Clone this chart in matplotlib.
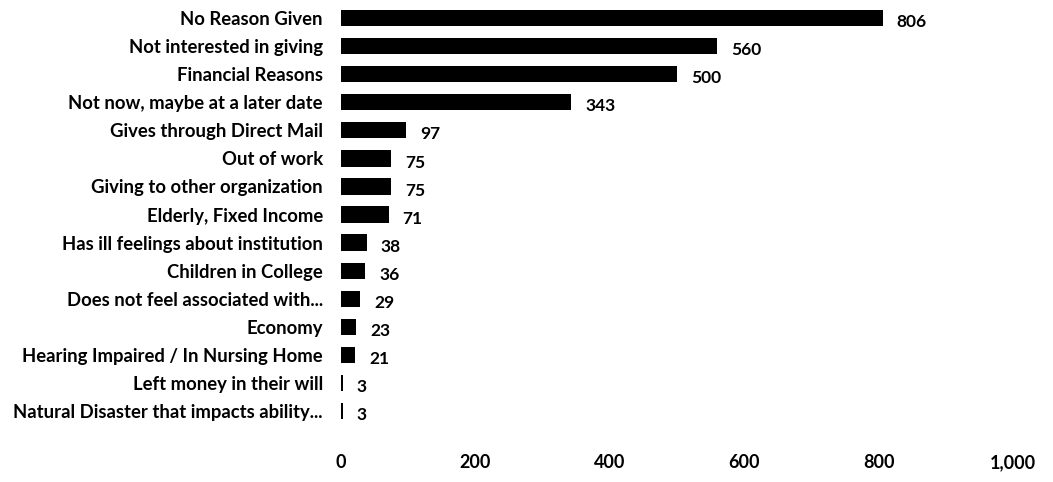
import matplotlib
matplotlib.use("Agg")
import matplotlib.pyplot as plt

# Motivos de no donacion (lectura del grafico)
reasons = [
    "No Reason Given",
    "Not interested in giving",
    "Financial Reasons",
    "Not now, maybe at a later date",
    "Gives through Direct Mail",
    "Out of work",
    "Giving to other organization",
    "Elderly, Fixed Income",
    "Has ill feelings about institution",
    "Children in College",
    "Does not feel associated with...",
    "Economy",
    "Hearing Impaired / In Nursing Home",
    "Left money in their will",
    "Natural Disaster that impacts ability...",
]
counts = [806, 560, 500, 343, 97, 75, 75, 71, 38, 36, 29, 23, 21, 3, 3]
xticks = [0, 200, 400, 600, 800, 1000]
xtick_labels = ["0", "200", "400", "600", "800", "1,000"]

plt.rcParams["font.family"] = ["Lato", "DejaVu Sans"]
plt.rcParams["font.weight"] = "bold"

fig = plt.figure(figsize=(10.53, 4.82), dpi=100)
ax = fig.add_axes([341 / 1053, 0.1124, (1013 - 341) / 1053, 0.8851])

pos = list(range(len(reasons)))
ax.barh(pos, counts, height=0.58, color="black")
ax.set_ylim(len(reasons) - 0.4, -0.6)
ax.set_xlim(0, 1000)

# etiquetas de valor al final de cada barra
for y, v in zip(pos, counts):
    ax.annotate(str(v), (v, y), xytext=(10, -3), textcoords="offset points",
                ha="left", va="center", fontsize=12.5, fontweight="bold")

ax.set_yticks(pos)
ax.set_yticklabels(reasons, fontsize=13.3, fontweight="bold")
ax.set_xticks(xticks)
ax.set_xticklabels(xtick_labels, fontsize=13, fontweight="bold")
ax.tick_params(axis="y", length=0, pad=13)
ax.tick_params(axis="x", length=0, pad=19)
for s in ax.spines.values():
    s.set_visible(False)

fig.savefig("out.png", dpi=100)
